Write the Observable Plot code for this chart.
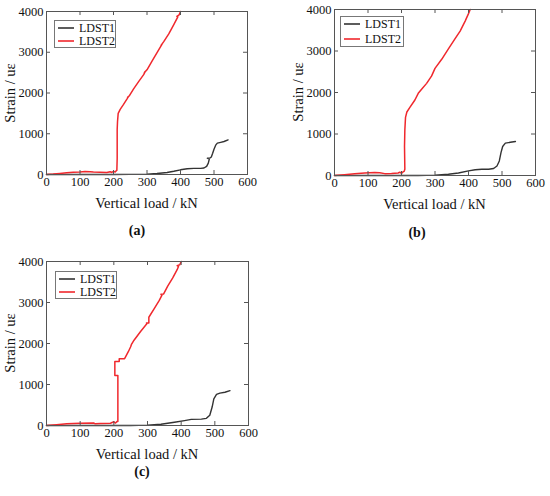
<!DOCTYPE html>
<html><head><meta charset="utf-8">
<script src="https://cdn.jsdelivr.net/npm/d3@7"></script>
<script src="https://cdn.jsdelivr.net/npm/@observablehq/plot@0.6"></script>
<style>
body{margin:0;background:#fff;}
#root{position:relative;width:550px;height:496px;font-family:"Liberation Serif","DejaVu Serif",serif;color:#111;overflow:hidden;}
.abs{position:absolute;line-height:1;white-space:nowrap;}
.ctr{transform:translate(-50%,-50%);}
.rot{transform:translate(-50%,-50%) rotate(-90deg);}
.lg{position:absolute;border:1px solid #777;background:#fff;box-sizing:border-box;font-size:12px;}
.row{position:absolute;left:3px;height:12px;line-height:12px;display:flex;align-items:center;}
.row svg{margin-right:5px;}
</style>
</head><body><div id="root"></div>
<script>
// ---- data ----
const xTicks = [0, 100, 200, 300, 400, 500, 600];
const yTicks = [0, 1000, 2000, 3000, 4000];
const seriesNames = ["LDST1", "LDST2"];
const panelLabels = ["(a)", "(b)", "(c)"];
const xTitle = "Vertical load / kN";
const yTitle = "Strain / uε";

// panel (a)
const loadA1 = [0,100,200,250,300,330,360,380,400,420,440,460,470,478,483,486,480,488,492,496,500,505,510,520,530,542];
const strainA1 = [0,0,0,2,10,25,50,80,115,140,150,150,160,200,280,380,400,405,430,520,620,720,770,790,810,850];
const loadA2 = [0,20,40,60,80,100,115,130,140,160,180,190,195,200,205,208,210,211,211,212,214,220,230,240,245,242,248,260,275,290,295,292,300,315,330,345,342,350,365,380,392,389,396,400];
const strainA2 = [0,10,25,40,55,60,75,70,60,55,50,70,50,80,60,90,100,400,1100,1300,1500,1600,1720,1850,1920,1890,1940,2100,2280,2450,2530,2500,2570,2780,2990,3200,3170,3260,3450,3680,3870,3880,3920,4000];

// panel (b)
const loadB1 = [0,250,300,340,370,400,420,440,460,475,485,492,497,502,510,525,540];
const strainB1 = [0,0,10,30,60,110,140,150,150,170,230,350,550,700,780,800,820];
const loadB2 = [0,30,60,90,120,135,150,170,190,195,200,205,208,210,209,210,212,216,225,240,250,260,275,290,300,320,340,360,375,390,400,405];
const strainB2 = [0,20,40,60,70,65,45,50,60,80,50,90,100,150,700,1100,1400,1530,1640,1820,1980,2080,2220,2400,2580,2800,3050,3300,3480,3720,3900,4000];

// panel (c)
const loadC1 = [0,250,300,340,380,410,430,460,475,485,492,497,505,515,530,545];
const strainC1 = [0,0,8,30,80,120,150,155,175,250,450,650,760,790,810,850];
const loadC2 = [0,30,60,100,140,145,160,190,200,205,210,212,212,203,203,216,216,232,243,250,252,260,280,298,297,304,304,320,335,343,340,348,360,375,388,392,388,396,400];
const strainC2 = [0,20,40,55,60,40,50,55,90,60,100,100,1220,1220,1560,1560,1630,1630,1800,1920,1970,2080,2300,2480,2500,2500,2640,2850,3050,3180,3200,3210,3400,3600,3800,3880,3900,3920,4000];

const colors = ["#333333", "#f0282d"];

// ---- layout ----
const ML = 46, MT = 11, MR = 14, MB = 22;
const panels = [
  {l1: loadA1, s1: strainA1, l2: loadA2, s2: strainA2, fx: 46, fy: 11, fw: 201, fh: 163, lab: [137, 231], lg: [8, 9, 62, 28]},
  {l1: loadB1, s1: strainB1, l2: loadB2, s2: strainB2, fx: 334, fy: 9, fw: 201, fh: 166, lab: [417, 233], lg: [6, 7, 64, 31]},
  {l1: loadC1, s1: strainC1, l2: loadC2, s2: strainC2, fx: 46, fy: 261, fw: 202, fh: 164, lab: [142, 472], lg: [9, 10, 62, 28]}
];

const root = document.getElementById("root");
function addText(txt, x, y, cls, size, weight) {
  const d = document.createElement("div");
  d.className = "abs " + cls;
  d.style.left = x + "px"; d.style.top = y + "px";
  d.style.fontSize = size + "px";
  if (weight) d.style.fontWeight = weight;
  d.textContent = txt;
  root.appendChild(d);
}

panels.forEach((p, i) => {
  const FW = p.fw, FH = p.fh;
  const d1 = p.l1.map((x, k) => ({x, y: p.s1[k]}));
  const d2 = p.l2.map((x, k) => ({x, y: p.s2[k]}));
  const chart = Plot.plot({
    width: ML + FW + MR, height: MT + FH + MB,
    marginLeft: ML, marginTop: MT, marginRight: MR, marginBottom: MB,
    style: {fontFamily: "'Liberation Serif', 'DejaVu Serif', serif", fontSize: "12.5px", color: "#111", background: "transparent", overflow: "visible"},
    x: {domain: [0, 600]},
    y: {domain: [0, 4000]},
    marks: [
      Plot.line(d1, {x: "x", y: "y", stroke: colors[0], strokeWidth: 1.4}),
      Plot.line(d2, {x: "x", y: "y", stroke: colors[1], strokeWidth: 1.5}),
      Plot.frame({stroke: "#555", strokeWidth: 1}),
      Plot.tickX(xTicks, {x: d => d, stroke: "#555", insetTop: FH - 4}),
      Plot.tickX(xTicks, {x: d => d, stroke: "#555", insetBottom: FH - 4}),
      Plot.tickY(yTicks, {y: d => d, stroke: "#555", insetRight: FW - 4}),
      Plot.tickY(yTicks, {y: d => d, stroke: "#555", insetLeft: FW - 4}),
      Plot.axisX({ticks: xTicks, tickSize: 0, tickPadding: 3, label: null, tickFormat: d => String(d)}),
      Plot.axisY({ticks: yTicks, tickSize: 0, tickPadding: 3, label: null, tickFormat: d => String(d)})
    ]
  });
  chart.style.position = "absolute";
  chart.style.left = (p.fx - ML) + "px";
  chart.style.top = (p.fy - MT) + "px";
  root.appendChild(chart);

  addText(xTitle, p.fx + FW / 2, p.fy + FH + 29, "ctr", 14.5);
  addText(yTitle, p.fx - 36, p.fy + FH / 2, "rot", 14.5);
  addText(panelLabels[i], p.lab[0], p.lab[1], "ctr", 14, "bold");

  const lg = document.createElement("div");
  lg.className = "lg";
  lg.style.left = (p.fx + p.lg[0]) + "px"; lg.style.top = (p.fy + p.lg[1]) + "px";
  lg.style.width = p.lg[2] + "px"; lg.style.height = p.lg[3] + "px";
  const rowH = (p.lg[3] - 2) / 2;
  seriesNames.forEach((n, k) => {
    const r = document.createElement("div");
    r.className = "row";
    r.style.top = Math.round(k * rowH + rowH / 2 - 6) + "px";
    const ns = "http://www.w3.org/2000/svg";
    const sv = document.createElementNS(ns, "svg");
    sv.setAttribute("width", "16"); sv.setAttribute("height", "6");
    const ln = document.createElementNS(ns, "line");
    ln.setAttribute("x1", "0"); ln.setAttribute("x2", "16");
    ln.setAttribute("y1", "3"); ln.setAttribute("y2", "3");
    ln.setAttribute("stroke", colors[k]); ln.setAttribute("stroke-width", "1.6");
    sv.appendChild(ln);
    r.appendChild(sv);
    const t = document.createElement("span");
    t.textContent = n;
    r.appendChild(t);
    lg.appendChild(r);
  });
  root.appendChild(lg);
});
</script>
</body></html>
